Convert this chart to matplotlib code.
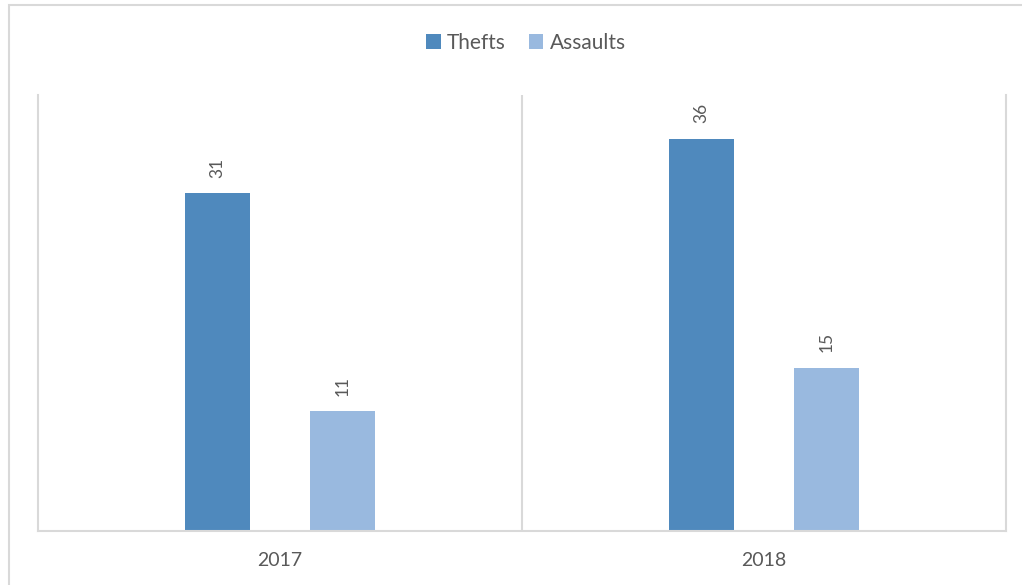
import matplotlib
matplotlib.use("Agg")
import matplotlib.pyplot as plt
from matplotlib.patches import Rectangle
import numpy as np

years = ["2017", "2018"]
thefts = [31, 36]
assaults = [11, 15]

THEFT_COLOR = "#4f89bd"
ASSAULT_COLOR = "#99b9df"
GRID = "#d9d9d9"
TEXT = "#595959"

plt.rcParams['font.family'] = ['Lato', 'DejaVu Sans']

fig = plt.figure(figsize=(10.22, 5.85), dpi=100)
ax = fig.add_axes([38 / 1022, 54 / 585, 968 / 1022, 436 / 585])

# outer chart frame (left and top edges visible in the reference)
fig.patches.append(Rectangle((8.5 / 1022, -0.1), 1.2, (585 - 5.5) / 585 + 0.1,
                             transform=fig.transFigure, fill=False,
                             edgecolor=GRID, linewidth=1.5))

x = np.arange(len(years))
offset = 0.129
width = 0.134

b1 = ax.bar(x - offset, thefts, width, color=THEFT_COLOR, label="Thefts")
b2 = ax.bar(x + offset, assaults, width, color=ASSAULT_COLOR, label="Assaults")

for bars, vals in ((b1, thefts), (b2, assaults)):
    for bar, v in zip(bars, vals):
        ax.annotate(str(v), (bar.get_x() + bar.get_width() / 2, v),
                    xytext=(0, 11), textcoords="offset points",
                    rotation=90, ha="center", va="bottom",
                    color=TEXT, fontsize=12.5)

ax.set_xlim(-0.5, 1.5)
ax.set_ylim(0, 40)
ax.set_yticks([])
ax.set_xticks(x)
ax.set_xticklabels(years, color=TEXT, fontsize=14)
ax.tick_params(axis="x", length=0, pad=15)

# category separator
ax.axvline(0.5, color=GRID, linewidth=1.5, zorder=0)

for side in ("left", "right", "bottom"):
    ax.spines[side].set_color(GRID)
    ax.spines[side].set_linewidth(1.5)
ax.spines["top"].set_visible(False)

leg = fig.legend(loc="center", bbox_to_anchor=(526 / 1022, 1 - 43 / 585), ncol=2,
                 frameon=False, fontsize=15, handlelength=0.7, handleheight=0.7,
                 handletextpad=0.3, columnspacing=1.1)
for t in leg.get_texts():
    t.set_color(TEXT)

fig.savefig("out.png", dpi=100)
